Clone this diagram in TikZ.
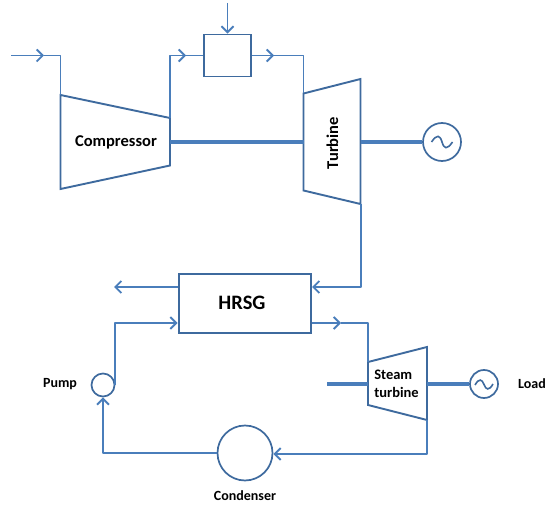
\documentclass[tikz,border=0pt]{standalone}
\usepackage{fontspec}
\setmainfont{Carlito}
\usetikzlibrary{arrows.meta}
\definecolor{edgeblue}{HTML}{3E6A9E}
\definecolor{flowblue}{HTML}{4A7EBB}
\tikzset{
  x=1pt,y=-1pt,
  equip/.style={draw=edgeblue,line width=1.9pt,line join=miter,fill=white},
  flow/.style={draw=flowblue,line width=2pt,line join=round},
  thinflow/.style={flow,line width=1.9pt},
  arrowed/.style={-{Straight Barb[length=6pt,width=12pt,line width=1.9pt]}},
  shaft/.style={draw=flowblue,line width=4.2pt},
  lbl/.style={text=black,inner sep=0pt,font=\fontsize{16.5}{18}\selectfont\bfseries},
  smalllbl/.style={lbl,font=\fontsize{14}{16}\selectfont\bfseries},
  circ/.style={circle,draw=edgeblue,line width=1.7pt,fill=white,inner sep=0pt},
  wave/.style={draw=edgeblue,line width=1.6pt}
}
\begin{document}
\begin{tikzpicture}
\useasboundingbox (0,0) rectangle (546,505);
% coordinates
\coordinate (inA) at (11,55.5); \coordinate (inM) at (44,55.5); \coordinate (inB) at (60.5,55.5); \coordinate (cIn) at (60.5,95);
\coordinate (cOut) at (170,118); \coordinate (cTop) at (170,55.5); \coordinate (cM) at (186,55.5);
\coordinate (fuel) at (227.5,3);
\coordinate (bM) at (274,55.5); \coordinate (tTop) at (303.5,55.5); \coordinate (tIn) at (303.5,93.5);
\coordinate (tOut) at (360.5,204); \coordinate (tDown) at (360.5,287);
\coordinate (exh) at (114,287);
\coordinate (pOut) at (114.5,385); \coordinate (pUp) at (114.5,323);
\coordinate (cndL) at (103,453);
\coordinate (hM) at (341,323); \coordinate (sTop) at (367.5,323); \coordinate (sIn) at (367.5,362);
\coordinate (sOut) at (427,420); \coordinate (sDown) at (427,454);
\coordinate (sL) at (327,384);
% equipment
\draw[equip] (60.5,95) -- (170,118) -- (170,165.5) -- (60.5,189) -- cycle;
\draw[equip] (303.5,93.5) -- (360.5,79) -- (360.5,204) -- (303.5,190.5) -- cycle;
\draw[equip] (368,362) -- (427,347) -- (427,420) -- (368,405) -- cycle;
\node[draw=edgeblue,line width=1.9pt,fill=white,minimum width=47pt,minimum height=42pt,inner sep=0pt] (comb) at (227.5,55.5) {};
\node[draw=edgeblue,line width=1.9pt,fill=white,minimum width=132.5pt,minimum height=59pt,inner sep=0pt] (hrsg) at (244.8,303.5) {};
\node[lbl,font=\fontsize{20.5}{22}\selectfont\bfseries] (hrsgt) at (242,303) {HRSG};
\node[lbl] (compt) at (116,142) {Compressor};
\node[lbl,rotate=90] (turbt) at (332.5,143) {Turbine};
\node[smalllbl,align=left,font=\fontsize{14.5}{18}\selectfont\bfseries] (stt) at (396.5,383.5) {Steam\\turbine};
\node[circ,minimum size=38pt] (g1) at (442,142) {};
\node[circ,minimum size=28pt] (g2) at (484,384) {};
\node[circ,minimum size=23pt] (pump) at (103,385) {};
\node[circ,minimum size=55pt] (cond) at (245,453) {};
\node[smalllbl] (pumpt) at (60,384) {Pump};
\node[smalllbl] (loadt) at (532,384) {Load};
\node[smalllbl] (condt) at (245,496) {Condenser};
% waves
\draw[wave] (431.5,142) .. controls (437,134) and (440,135) .. (442,142) .. controls (444,149) and (447,150) .. (452.5,142);
\draw[wave] (475,385) .. controls (479,378) and (482,379) .. (484,384.5) .. controls (486,390) and (489,391) .. (493,384);
% shafts
\draw[shaft] (cOut |- g1) -- (tIn |- g1);
\draw[shaft] (tOut |- g1) -- (g1.west);
\draw[shaft] (sL) -- (sIn |- sL);
\draw[shaft] (sOut |- sL) -- (g2.west);
% flows
\draw[thinflow,arrowed] (inA) -- (inM);
\draw[thinflow] (inM) -- (inB) -- (cIn);
\draw[thinflow,arrowed] (cOut) -- (cTop) -- (cM);
\draw[thinflow] (cM) -- (comb.west);
\draw[thinflow,arrowed] (fuel) -- (comb.north);
\draw[thinflow,arrowed] (comb.east) -- (bM);
\draw[thinflow] (bM) -- (tTop) -- (tIn);
\draw[flow,arrowed] (tOut) -- (tDown) -- (hrsg.east |- tDown);
\draw[flow,arrowed] (hrsg.west |- exh) -- (exh);
\draw[flow,arrowed] (pOut) -- (pUp) -- (hrsg.west |- pUp);
\draw[flow,arrowed] (cond.west) -- (cndL) -- (pump.south);
\draw[flow,arrowed] (hrsg.east |- hM) -- (hM);
\draw[flow] (hM) -- (sTop) -- (sIn);
\draw[flow,arrowed] (sOut) -- (sDown) -- (cond.east |- sDown);
\end{tikzpicture}
\end{document}
